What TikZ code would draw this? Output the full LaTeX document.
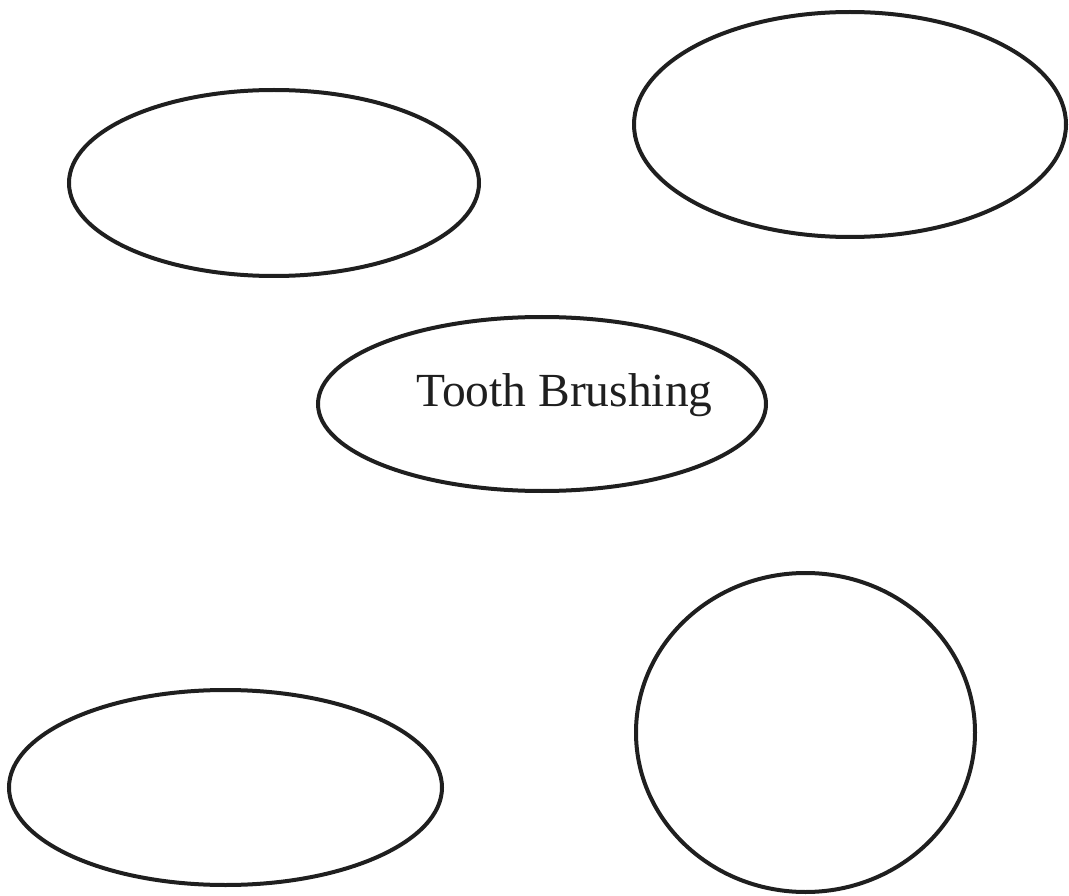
\documentclass[tikz,border=0pt]{standalone}
\usepackage{fontspec}
\setmainfont{Liberation Serif}
\usetikzlibrary{shapes.geometric}

\begin{document}
\begin{tikzpicture}[x=1pt, y=-1pt]
\tikzset{bulle/.style={draw, ellipse, line width=4pt, inner sep=0pt, color={black!88}},
         texte/.style={anchor=base, inner sep=0pt, font=\fontsize{47.5}{50}\selectfont, text={black!88}}}
\useasboundingbox (0, 0) rectangle (1069, 896);
\node[bulle, minimum width=410, minimum height=186] (E1) at (274, 183) {};
\node[bulle, minimum width=432, minimum height=225] (E2) at (850, 124.5) {};
\node[bulle, minimum width=448, minimum height=174] (E3) at (542, 404) {};
\node[bulle, minimum width=433, minimum height=195] (E4) at (225.5, 787.5) {};
\node[bulle, minimum width=339, minimum height=319] (E5) at (805.5, 732.5) {};
\node[texte] (T3) at (564.5, 406) {Tooth Brushing};
\end{tikzpicture}
\end{document}
